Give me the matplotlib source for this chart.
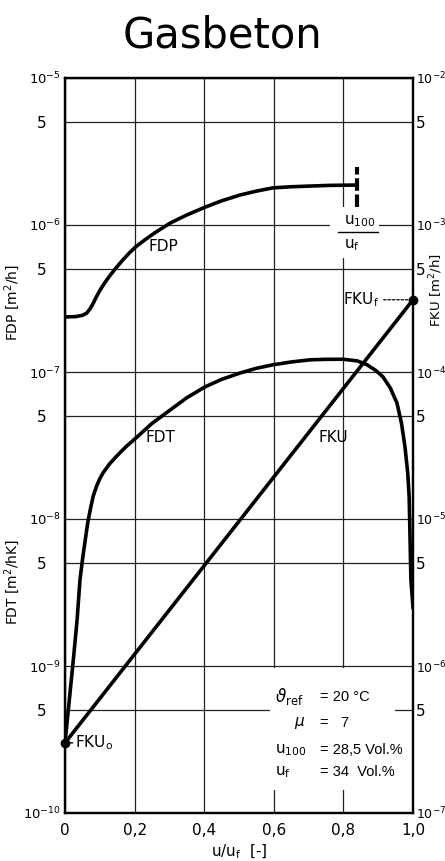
import matplotlib
matplotlib.use("Agg")
import matplotlib.pyplot as plt
from matplotlib.patches import Rectangle
from matplotlib.ticker import FixedLocator, NullLocator

plt.rcParams['font.family'] = ['DejaVu Sans']

# ---------------- data ----------------
title = "Gasbeton"
x_ticks = [0.0, 0.2, 0.4, 0.6, 0.8, 1.0]
x_ticklabels = ["0", "0,2", "0,4", "0,6", "0,8", "1,0"]

left_ticks = [1e-10, 5e-10, 1e-9, 5e-9, 1e-8, 5e-8, 1e-7, 5e-7, 1e-6, 5e-6, 1e-5]
left_ticklabels = ["10$^{-10}$", "5   ", "10$^{-9}$", "5   ", "10$^{-8}$", "5   ",
                   "10$^{-7}$", "5   ", "10$^{-6}$", "5   ", "10$^{-5}$"]
right_ticks = [1e-7, 5e-7, 1e-6, 5e-6, 1e-5, 5e-5, 1e-4, 5e-4, 1e-3, 5e-3, 1e-2]
right_ticklabels = ["10$^{-7}$", "5", "10$^{-6}$", "5", "10$^{-5}$", "5",
                    "10$^{-4}$", "5", "10$^{-3}$", "5", "10$^{-2}$"]

# FDP [m2/h] vs u/uf
fdp_u = [0.0, 0.03, 0.05, 0.062, 0.072, 0.081, 0.09, 0.10, 0.115, 0.129, 0.145,
         0.165, 0.185, 0.204, 0.23, 0.26, 0.302, 0.35, 0.402, 0.45, 0.503, 0.55,
         0.598, 0.65, 0.704, 0.76, 0.838]
fdp_v = [2.37e-7, 2.38e-7, 2.43e-7, 2.51e-7, 2.69e-7, 2.93e-7, 3.24e-7, 3.58e-7,
         4.07e-7, 4.52e-7, 5.05e-7, 5.74e-7, 6.46e-7, 7.13e-7, 7.94e-7, 8.91e-7,
         1.03e-6, 1.17e-6, 1.32e-6, 1.46e-6, 1.60e-6, 1.70e-6, 1.79e-6, 1.82e-6,
         1.84e-6, 1.86e-6, 1.87e-6]

# FDT [m2/hK] vs u/uf
fdt_u = [0.0, 0.012, 0.025, 0.035, 0.043, 0.05, 0.057, 0.065, 0.073, 0.081, 0.091,
         0.10, 0.11, 0.128, 0.148, 0.175, 0.204, 0.25, 0.302, 0.35, 0.402, 0.45,
         0.503, 0.55, 0.598, 0.65, 0.704, 0.75, 0.80, 0.84, 0.868, 0.894, 0.914,
         0.935, 0.954, 0.967, 0.977, 0.985, 0.989, 0.994, 1.0]
fdt_v = [3.0e-10, 5.75e-10, 1.17e-9, 2.09e-9, 3.85e-9, 5.25e-9, 6.87e-9, 9.33e-9,
         1.17e-8, 1.43e-8, 1.68e-8, 1.88e-8, 2.07e-8, 2.37e-8, 2.67e-8, 3.10e-8,
         3.56e-8, 4.47e-8, 5.51e-8, 6.68e-8, 7.91e-8, 8.91e-8, 9.84e-8, 1.06e-7,
         1.12e-7, 1.17e-7, 1.21e-7, 1.22e-7, 1.22e-7, 1.19e-7, 1.12e-7, 1.02e-7,
         9.25e-8, 7.76e-8, 6.15e-8, 4.47e-8, 3.09e-8, 2.04e-8, 1.41e-8, 3.85e-9,
         2.51e-9]

# FKU [m2/h] (right axis), straight line in log scale between end points
fku_u = [0.0, 1.0]
fku_v = [3.0e-7, 3.1e-4]

u100 = 28.5
uf = 34.0
u_ratio = u100 / uf

params_left = ["$\\vartheta_\\mathrm{ref}$", "$\\mu$", "u$_{100}$", "u$_\\mathrm{f}$"]
params_right = ["= 20 °C", "=   7", "= 28,5 Vol.%", "= 34  Vol.%"]

# ---------------- figure ----------------
W, H = 445, 861
fig = plt.figure(figsize=(W / 100, H / 100), dpi=100)
fig.patch.set_facecolor("white")


def fx(px):
    return px / W


def fy(py):
    return 1 - py / H


L, R, T, B = 65, 413, 78, 813
ax = fig.add_axes([fx(L), fy(B), fx(R) - fx(L), fy(T) - fy(B)])
ax.set_yscale("log")
ax.set_xlim(0, 1)
ax.set_ylim(1e-10, 1e-5)
ax.set_axisbelow(True)

ax.xaxis.set_major_locator(FixedLocator(x_ticks))
ax.set_xticklabels(x_ticklabels, fontsize=11)
ax.yaxis.set_major_locator(FixedLocator(left_ticks))
ax.yaxis.set_minor_locator(NullLocator())
ax.set_yticklabels(left_ticklabels, fontsize=9.5)
for lab, t in zip(ax.get_yticklabels(), left_ticklabels):
    if t.strip() == "5":
        lab.set_fontsize(11)
ax.tick_params(axis="both", length=0)
ax.tick_params(axis="x", pad=7)
ax.tick_params(axis="y", pad=3)
ax.grid(True, color="#222222", linewidth=0.9)
for s in ax.spines.values():
    s.set_linewidth(1.6)

ax2 = ax.twinx()
ax2.set_yscale("log")
ax2.set_ylim(1e-7, 1e-2)
ax2.yaxis.set_major_locator(FixedLocator(right_ticks))
ax2.yaxis.set_minor_locator(NullLocator())
ax2.set_yticklabels(right_ticklabels, fontsize=9)
for lab, t in zip(ax2.get_yticklabels(), right_ticklabels):
    if t.strip() == "5":
        lab.set_fontsize(11)
ax2.tick_params(axis="y", length=0, pad=2)
for s in ax2.spines.values():
    s.set_linewidth(1.6)

# white areas that interrupt the grid
ax.add_patch(Rectangle((0.589, 0.031), 0.36, 0.166, transform=ax.transAxes,
                       facecolor="white", edgecolor="none", zorder=1))
ax.add_patch(Rectangle((0.762, 6.0e-7), 0.14, 1.32e-6 - 6.0e-7,
                       facecolor="white", edgecolor="none", zorder=1))

# curves
lw = 2.6
ax.plot(fdp_u, fdp_v, color="black", lw=lw, solid_capstyle="butt",
        solid_joinstyle="round", zorder=3)
ax.vlines(u_ratio, 1.32e-6, 2.48e-6, color="black", lw=3.0,
          linestyles=(0, (3.0, 0.9)), zorder=3)
ax.plot(fdt_u, fdt_v, color="black", lw=lw, zorder=3, solid_joinstyle="round")
ax2.plot(fku_u, fku_v, color="black", lw=lw, zorder=3)
ax2.plot([fku_u[0], fku_u[-1]], [fku_v[0], fku_v[-1]], "o", color="black",
         ms=6, zorder=4, clip_on=False)

# curve labels
ax.text(0.282, 7.1e-7, "FDP", fontsize=11, ha="center", va="center")
ax.text(0.273, 3.6e-8, "FDT", fontsize=11, ha="center", va="center")
ax.text(0.77, 3.6e-8, "FKU", fontsize=11, ha="center", va="center")

# FKU end labels
ax2.annotate("FKU$_\\mathrm{o}$", xy=(fku_u[0], fku_v[0]), xytext=(0.03, fku_v[0]),
             fontsize=11, ha="left", va="center",
             arrowprops=dict(arrowstyle="-", lw=1.0, color="black",
                             shrinkA=0, shrinkB=0))
ax2.annotate("FKU$_\\mathrm{f}$", xy=(fku_u[-1], fku_v[-1]), xytext=(0.80, fku_v[-1]),
             fontsize=11, ha="left", va="center",
             arrowprops=dict(arrowstyle="-", lw=0.9, color="black", ls=(0, (2, 1.5)),
                             shrinkA=1, shrinkB=2))

# u100/uf fraction label
ax.text(u_ratio + 0.01, 1.06e-6, "u$_{100}$", fontsize=11, ha="center", va="center", zorder=4)
ax.text(u_ratio - 0.015, 7.3e-7, "u$_\\mathrm{f}$", fontsize=11, ha="center", va="center", zorder=4)
ax.plot([u_ratio - 0.055, u_ratio + 0.06], [9.0e-7, 9.0e-7], color="black", lw=1.0, zorder=4)

# parameter block
px0 = 0.603
peq = 0.733
rows_y = [0.158, 0.122, 0.086, 0.056]
left_x = [px0, px0 + 0.055, px0, px0]
left_fs = [12, 11, 11, 11]
for xv, yv, s, fsz in zip(left_x, rows_y, params_left, left_fs):
    ax.text(xv, yv, s, transform=ax.transAxes, fontsize=fsz,
            ha="left", va="center", zorder=4)
for yv, s in zip(rows_y, params_right):
    ax.text(peq, yv, s, transform=ax.transAxes, fontsize=10.5,
            family=["Liberation Sans", "DejaVu Sans"],
            ha="left", va="center", zorder=4)

# axis labels
fig.text(fx(222), fy(36), title, fontsize=30, ha="center", va="center")
fig.text(fx(239), fy(852), "u/u$_\\mathrm{f}$  [-]", fontsize=11, ha="center", va="center")
fig.text(fx(12), fy(303), "FDP [m$^2$/h]", fontsize=10, rotation=90, ha="center", va="center")
fig.text(fx(12), fy(582), "FDT [m$^2$/hK]", fontsize=10, rotation=90, ha="center", va="center")
fig.text(fx(436), fy(290), "FKU [m$^2$/h]", fontsize=9.5, rotation=90, ha="center", va="center")

fig.savefig("out.png", dpi=100, facecolor="white")
